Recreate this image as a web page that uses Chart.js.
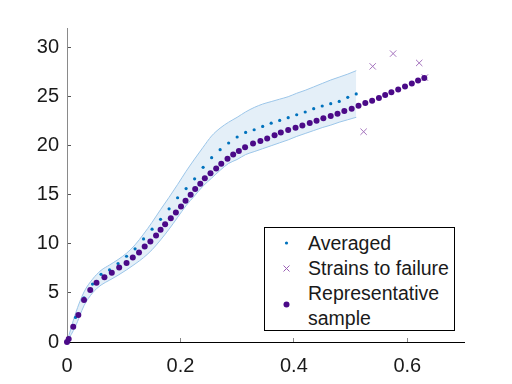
<!DOCTYPE html>
<html>
<head>
<meta charset="utf-8">
<script src="https://cdn.jsdelivr.net/npm/chart.js@4"></script>
<style>
  html, body { margin: 0; padding: 0; background: #fff; }
  #wrap { position: relative; width: 512px; height: 384px; }
  #legend {
    position: absolute; left: 264px; top: 227px; width: 189px; height: 102px;
    border: 1px solid #000; background: #fff;
    font-family: "Liberation Sans", Arial, sans-serif; font-size: 19.5px; color: #1a1a1a;
  }
  #legend .t { position: absolute; left: 43px; line-height: 24px; white-space: nowrap; }
  #legend svg { position: absolute; left: 0; top: 0; }
</style>
</head>
<body>
<div id="wrap">
  <canvas id="chart" width="512" height="384"></canvas>
  <div id="legend">
    <svg width="189" height="102">
      <circle cx="21.5" cy="15" r="1.6" fill="#0072BD"/>
      <path d="M18.5 37.5 L24.5 43.5 M24.5 37.5 L18.5 43.5" stroke="#9A5FB5" stroke-width="1"/>
      <circle cx="21.5" cy="76.5" r="3" fill="#4B0A88"/>
    </svg>
    <div class="t" style="top:3px">Averaged</div>
    <div class="t" style="top:28px">Strains to failure</div>
    <div class="t" style="top:53px">Representative</div>
    <div class="t" style="top:78px">sample</div>
  </div>
</div>
<script>
// averaged curve, sampled every 0.015 strain, with its +/- band
const avgX = [0, 0.015, 0.03, 0.045, 0.06, 0.075, 0.09, 0.105, 0.12, 0.135, 0.15, 0.165, 0.18, 0.195, 0.21, 0.225,
  0.24, 0.255, 0.27, 0.285, 0.30, 0.315, 0.33, 0.345, 0.36, 0.375, 0.39, 0.405, 0.42, 0.435, 0.45, 0.465, 0.48, 0.495, 0.51];
const avgY = [0, 2.5, 4.5, 5.9, 6.9, 7.35, 8.0, 8.74, 9.5, 10.5, 11.5, 12.5, 13.57, 14.7, 15.64, 16.63,
  17.8, 18.78, 19.6, 20.28, 20.89, 21.36, 21.63, 21.97, 22.3, 22.58, 22.86, 23.16, 23.44, 23.78, 24.05, 24.29, 24.52, 24.93, 25.28];
const upperY = [0, 2.9, 5.1, 6.4, 7.3, 7.85, 8.4, 9.05, 9.9, 11.0, 12.2, 13.5, 14.75, 16.05, 17.4, 18.65,
  19.85, 21.0, 21.8, 22.4, 22.9, 23.45, 23.9, 24.25, 24.5, 24.75, 25.0, 25.35, 25.65, 26.0, 26.35, 26.7, 27.0, 27.3, 27.65];
const lowerY = [0, 1.6, 3.7, 5.0, 5.8, 6.3, 6.8, 7.35, 7.95, 8.6, 9.4, 10.4, 11.5, 12.7, 13.9, 14.9,
  15.9, 16.7, 17.5, 18.2, 18.6, 19.1, 19.4, 19.7, 20.0, 20.3, 20.6, 20.95, 21.25, 21.55, 21.85, 22.1, 22.4, 22.65, 22.9];

// representative sample
const repX = [0, 0.003, 0.011, 0.020, 0.030, 0.041, 0.052, 0.066, 0.079, 0.092, 0.105, 0.116, 0.127, 0.137, 0.147,
  0.157, 0.165, 0.173, 0.183, 0.192, 0.201, 0.209, 0.218, 0.226, 0.235, 0.243, 0.253, 0.263, 0.272, 0.283, 0.293,
  0.303, 0.314, 0.328, 0.341, 0.353, 0.366, 0.377, 0.390, 0.403, 0.415, 0.428, 0.440, 0.452, 0.465, 0.477, 0.489,
  0.502, 0.514, 0.526, 0.538, 0.550, 0.561, 0.572, 0.584, 0.596, 0.608, 0.619, 0.630];
const repY = [0, 0.3, 1.56, 2.76, 4.29, 5.31, 6.05, 6.60, 7.07, 7.58, 8.06, 8.60, 9.11, 9.72, 10.23,
  10.85, 11.43, 12.01, 12.62, 13.19, 13.81, 14.39, 15.00, 15.58, 16.12, 16.70, 17.21, 17.68, 18.16, 18.67, 19.11,
  19.46, 19.85, 20.23, 20.48, 20.75, 21.06, 21.36, 21.60, 21.84, 22.07, 22.31, 22.55, 22.79, 23.03, 23.27, 23.55,
  23.78, 24.08, 24.36, 24.59, 24.87, 25.18, 25.44, 25.74, 26.05, 26.35, 26.66, 26.91];

// strains to failure
const failX = [0.523, 0.539, 0.575, 0.621, 0.631];
const failY = [21.43, 28.09, 29.39, 28.44, 26.95];

const xTicks = [0, 0.2, 0.4, 0.6];
const yTicks = [0, 5, 10, 15, 20, 25, 30];

const pts = (xs, ys) => xs.map((x, i) => ({ x, y: ys[i] }));

const tickFont = { family: "'Liberation Sans', Arial, sans-serif", size: 20 };

new Chart(document.getElementById("chart"), {
  type: "scatter",
  data: {
    datasets: [
      {
        label: "upper",
        data: pts(avgX, upperY),
        showLine: true,
        pointRadius: 0,
        borderColor: "#9CC6E9",
        borderWidth: 1,
        backgroundColor: "#E4EFF8",
        fill: "+1",
        cubicInterpolationMode: "monotone",
        order: 4
      },
      {
        label: "lower",
        data: pts(avgX, lowerY),
        showLine: true,
        pointRadius: 0,
        borderColor: "#9CC6E9",
        borderWidth: 1,
        fill: false,
        cubicInterpolationMode: "monotone",
        order: 3
      },
      {
        label: "Averaged",
        data: pts(avgX, avgY),
        pointRadius: 1.6,
        pointBorderWidth: 0,
        backgroundColor: "#0072BD",
        order: 2,
        clip: false
      },
      {
        label: "Strains to failure",
        data: pts(failX, failY),
        pointStyle: "crossRot",
        pointRadius: 4.5,
        borderColor: "#A472BD",
        pointBorderWidth: 1,
        order: 1,
        clip: false
      },
      {
        label: "Representative sample",
        data: pts(repX, repY),
        pointRadius: 3,
        pointBorderWidth: 0,
        backgroundColor: "#4B0A88",
        order: 0,
        clip: false
      }
    ]
  },
  options: {
    responsive: false,
    animation: false,
    layout: { padding: { left: 0, top: 28, right: 48, bottom: 0 } },
    plugins: { legend: { display: false }, tooltip: { enabled: false } },
    scales: {
      x: {
        type: "linear",
        min: 0,
        max: 0.7,
        afterBuildTicks: (s) => { s.ticks = xTicks.map((v) => ({ value: v })); },
        afterFit: (s) => { s.height = 42; },
        border: { color: "#000", width: 1 },
        grid: { drawOnChartArea: false, tickLength: -4, color: "#888" },
        ticks: { font: tickFont, color: "#1a1a1a", padding: 16, maxRotation: 0, callback: (v) => String(v) }
      },
      y: {
        type: "linear",
        min: 0,
        max: 32,
        afterBuildTicks: (s) => { s.ticks = yTicks.map((v) => ({ value: v })); },
        afterFit: (s) => { s.width = 67; },
        border: { color: "#8a8a8a", width: 1 },
        grid: { drawOnChartArea: false, tickLength: -4, color: "#555" },
        ticks: { font: tickFont, color: "#1a1a1a", padding: 12, callback: (v) => String(v) }
      }
    }
  }
});
</script>
</body>
</html>
